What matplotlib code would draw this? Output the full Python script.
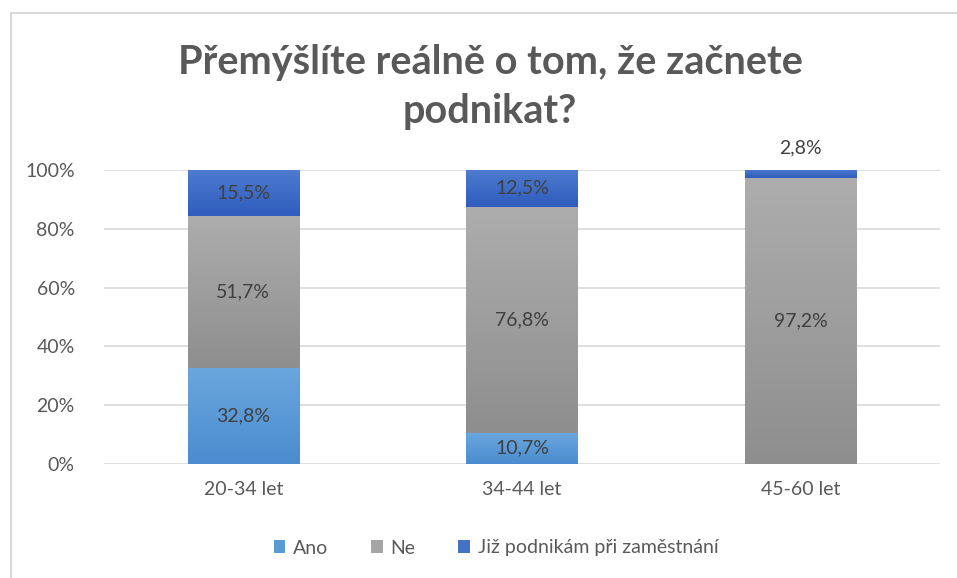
import matplotlib.pyplot as plt
import numpy as np
from matplotlib.colors import LinearSegmentedColormap
from matplotlib.ticker import PercentFormatter
from matplotlib.patches import Rectangle

categories = ['20-34 let', '34-44 let', '45-60 let']
series_names = ['Ano', 'Ne', 'Již podnikám při zaměstnání']
ano = [32.8, 10.7, 0.0]
ne = [51.7, 76.8, 97.2]
jiz = [15.5, 12.5, 2.8]
series_values = [ano, ne, jiz]

# gradient colours (top, bottom) and legend colour per series
grad = [('#6ba7de', '#4a8ccf'), ('#adadad', '#8e8e8e'), ('#4d7bcf', '#2f5cbd')]
legend_cols = ['#5b9bd5', '#a5a5a5', '#4472c4']

plt.rcParams['font.family'] = ['Lato', 'DejaVu Sans']

fig = plt.figure(figsize=(9.57, 5.78), dpi=100)
ax = fig.add_axes([104 / 957, 1 - 464 / 578, 836 / 957, 294 / 578])

# chart border (Excel-style)
fig.patches.append(Rectangle((11 / 957, -0.1), 1.2, 1 - 13 / 578 + 0.1,
                             transform=fig.transFigure, fill=False,
                             edgecolor='#d9d9d9', linewidth=1.5))

x = np.arange(len(categories))
width = 0.4
bottom = np.zeros(len(categories))
grad_img = np.linspace(1, 0, 256).reshape(-1, 1)
for name, vals, (top_c, bot_c), lc in zip(series_names, series_values, grad, legend_cols):
    vals = np.array(vals)
    bars = ax.bar(x, vals, width, bottom=bottom, color=lc, label=name,
                  edgecolor='none', zorder=3)
    cmap = LinearSegmentedColormap.from_list(name, [bot_c, top_c])
    for b, v in zip(bars, vals):
        if v <= 0:
            continue
        x0, y0 = b.get_x(), b.get_y()
        im = ax.imshow(grad_img, cmap=cmap, aspect='auto', zorder=4,
                       extent=[x0, x0 + b.get_width(), y0, y0 + b.get_height()])
        im.set_clip_path(b)
    for xi, v, b0 in zip(x, vals, bottom):
        if v <= 0:
            continue
        if v < 5:
            ax.text(xi, b0 + v + 4.5, f'{v:.1f}%'.replace('.', ','), ha='center',
                    va='bottom', fontsize=14, color='#404040', zorder=6)
        else:
            ax.text(xi, b0 + v / 2, f'{v:.1f}%'.replace('.', ','), ha='center',
                    va='center', fontsize=14, color='#404040', zorder=6)
    bottom += vals

ax.set_xlim(-0.5, 2.5)
ax.set_ylim(0, 100)
ax.set_yticks(range(0, 101, 20))
ax.yaxis.set_major_formatter(PercentFormatter(decimals=0))
ax.set_xticks(x)
ax.set_xticklabels(categories)
ax.tick_params(axis='both', length=0, labelsize=14, colors='#595959')
ax.tick_params(axis='y', pad=21)
ax.tick_params(axis='x', pad=12)
ax.grid(axis='y', color='#d9d9d9', linewidth=1.2, zorder=0)
ax.set_axisbelow(True)
for s in ax.spines.values():
    s.set_visible(False)

fig.text(490 / 957, 1 - 87 / 578, 'Přemýšlíte reálně o tom, že začnete\npodnikat?',
         ha='center', va='center', fontsize=28.5, fontweight='bold',
         color='#595959', linespacing=1.42)

fig.legend(loc='center', bbox_to_anchor=(496 / 957, 1 - 548 / 578), ncol=3,
           frameon=False, fontsize=14, labelcolor='#595959',
           handlelength=0.6, handleheight=0.6, handletextpad=0.4,
           columnspacing=2.2)

fig.savefig('out.png', dpi=100)
